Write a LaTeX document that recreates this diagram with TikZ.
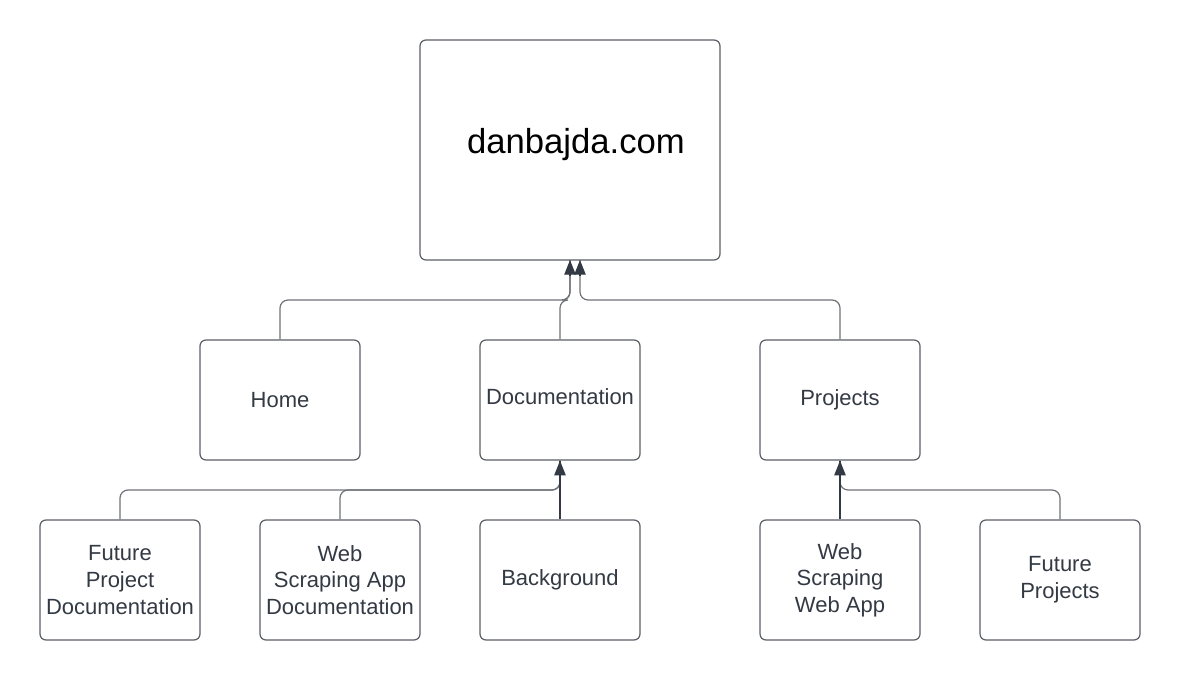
\documentclass[tikz,border=0pt]{standalone}
\usepackage{fontspec}
\setmainfont{Liberation Sans}
\usetikzlibrary{arrows.meta}
\definecolor{boxline}{HTML}{5B5F66}
\definecolor{txt}{HTML}{333A44}
\definecolor{conn}{HTML}{6E7278}
\begin{document}
\begin{tikzpicture}[x=0.75pt,y=-0.75pt,
  box/.style={draw=boxline,line width=0.9pt,rounded corners=4.5pt,fill=white,
    minimum width=120pt,minimum height=90pt,inner sep=0pt,align=center,
    text=txt,font=\fontsize{16.5}{20}\selectfont},
  link/.style={draw=conn,line width=0.9pt,rounded corners=6pt},
  tip/.style={-{Triangle[length=11pt,width=8.5pt]},color=txt,line width=0.9pt}]
\useasboundingbox (0,0) rectangle (1180,680);
\node[box,minimum width=225pt,minimum height=165pt] (root) at (570,150) {};
\node[font=\fontsize{26}{30}\selectfont,text=black] (title) at (576,145) {danbajda.com};
\node[box] (home) at (280,400) {Home};
\node[box] (doc) at (560,400) {};
\node[text=txt,font=\fontsize{16.5}{20}\selectfont] (doclabel) at (560,397) {Documentation};
\node[box] (proj) at (840,400) {Projects};
\node[box] (fpd) at (120,580) {Future\\Project\\Documentation};
\node[box] (wsad) at (340,580) {Web\\Scraping App\\Documentation};
\node[box] (bg) at (560,580) {Background};
\node[box] (wswa) at (840,580) {Web\\Scraping\\Web App};
\node[box] (fp) at (1060,580) {Future\\Projects};
\coordinate (a1) at (570,260);
\coordinate (a2) at (580,260);
% top level
\draw[link] (home.north) |- (570,300) -- (a1);
\draw[link] (doc.north) |- (570,300) -- (a1);
\draw[link] (proj.north) |- (580,300) -- (a2);
\draw[tip] (570,276) -- (a1);
\draw[tip] (580,276) -- (a2);
% documentation children
\draw[link] (fpd.north) |- (560,490) -- (doc.south);
\draw[link] (wsad.north) |- (560,490) -- (doc.south);
\draw[link,draw=txt] (bg.north) -- (doc.south);
\draw[tip] (560,476) -- (doc.south);
% projects children
\draw[link] (fp.north) |- (840,490) -- (proj.south);
\draw[link,draw=txt] (wswa.north) -- (proj.south);
\draw[tip] (840,476) -- (proj.south);
\end{tikzpicture}
\end{document}
